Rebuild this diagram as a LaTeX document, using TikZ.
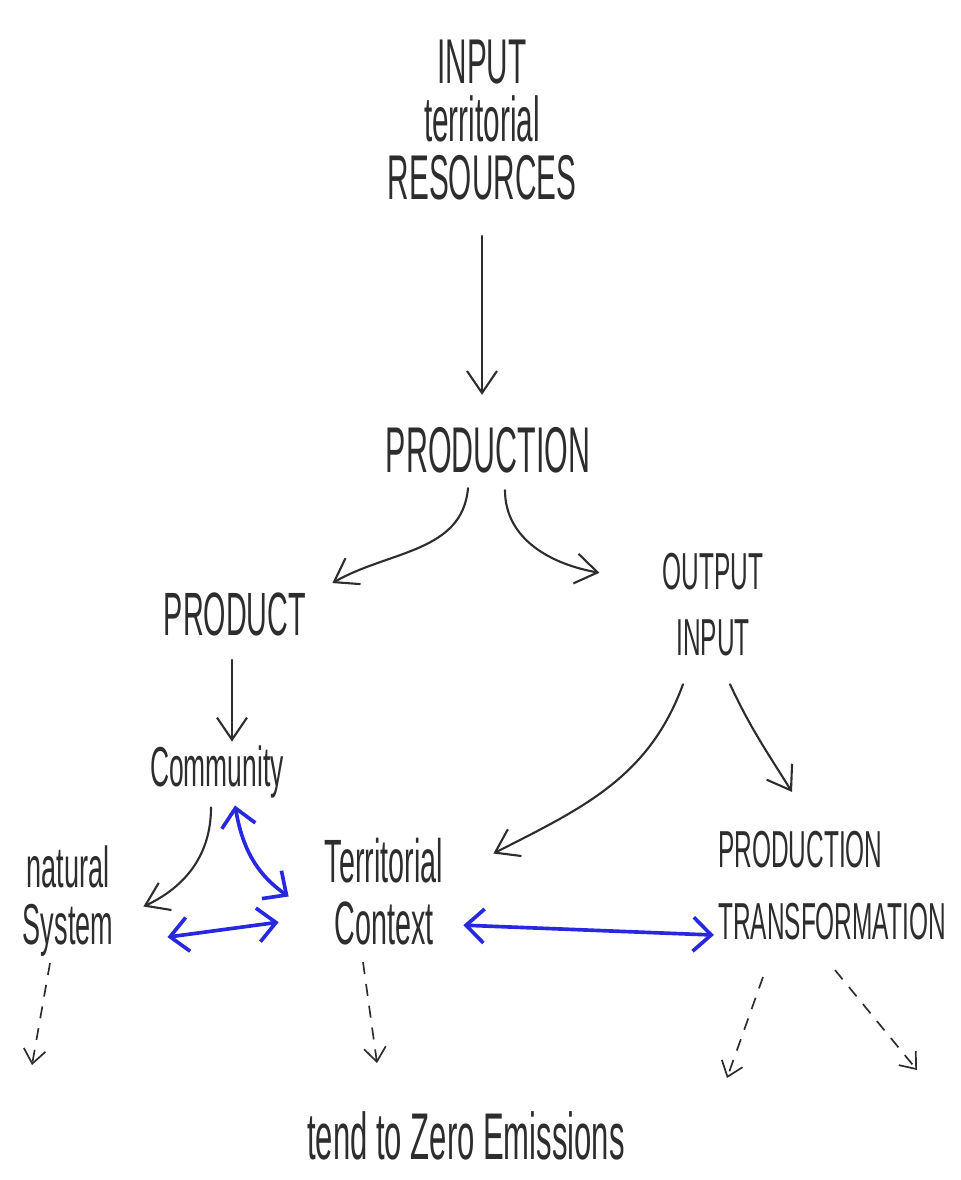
\documentclass[tikz,border=0pt]{standalone}
\usepackage{fontspec}
\newfontfamily\handfont[FakeStretch=0.47]{Liberation Sans}
\usetikzlibrary{arrows.meta, positioning}
\definecolor{inkblack}{RGB}{45,45,45}
\definecolor{inkblue}{RGB}{40,40,225}
\newcommand{\fsize}[2]{\fontsize{#1}{#2}\selectfont}
\tikzset{
    sketch/.style={inner sep=0pt, align=center, text=inkblack},
    flow/.style={-{Straight Barb[length=5.5mm,width=7.5mm]}, line width=1.5pt, draw=inkblack, line cap=round},
    link/.style={{Straight Barb[length=4.5mm,width=8.5mm]}-{Straight Barb[length=4.5mm,width=8.5mm]}, line width=2.6pt, draw=inkblue, line cap=round},
    fade/.style={-{Straight Barb[length=3.5mm,width=5.5mm]}, line width=1.2pt, draw=inkblack, dash pattern=on 3mm off 2.5mm},
}

\begin{document}
\begin{tikzpicture}[x=0.25mm, y=0.25mm]
    \useasboundingbox (0,0) rectangle (960,-1180);

    \node [sketch, font=\handfont\fsize{45}{41}] (res) at (482,-120) {INPUT\\territorial\\RESOURCES};
    \node [sketch, font=\handfont\fsize{46}{50}] (prodn) at (488,-450) {PRODUCTION};
    \node [sketch, font=\handfont\fsize{43.5}{48}] (product) at (235,-614) {PRODUCT};
    \node [sketch, font=\handfont\fsize{37}{47}] (outin) at (713,-604.5) {OUTPUT\\INPUT};
    \node [sketch, font=\handfont\fsize{40}{44}] (comm) at (217,-772) {Community};
    \node [sketch, font=\handfont\fsize{41}{40.5}] (natsys) at (68,-901.5) {natural\\System};
    \node [sketch, font=\handfont\fsize{43.5}{44}] (terr) at (384,-891.5) {Territorial\\Context};
    \node [sketch, align=left, font=\handfont\fsize{37}{51}] (prodtr) at (832,-885.5) {PRODUCTION\\TRANSFORMATION};
    \node [sketch, font=\handfont\fsize{47}{52}] (zero) at (466,-1136) {tend to Zero Emissions};

    % loose ends of the dashed arrows
    \coordinate (natend) at (32,-1065);
    \coordinate (terrend) at (377,-1063);
    \coordinate (trleft) at (727,-1078);
    \coordinate (trright) at (917,-1070);

    \draw [flow] ([shift={(0,-36)}]res.south) -- ([shift={(-6,32)}]prodn.north);
    \draw [flow] ([shift={(-20,-15)}]prodn.south) to[out=-95,in=30] ([shift={(26,9)}]product.north east);
    \draw [flow] ([shift={(17,-17)}]prodn.south) to[out=-90,in=170] ([shift={(-63,-20)}]outin.north west);
    \draw [flow] ([shift={(-3,-24)}]product.south) -- ([shift={(15,4)}]comm.north);
    \draw [flow] ([shift={(-30,-28)}]outin.south) to[out=-110,in=27] ([shift={(50,38)}]terr.east);
    \draw [flow] ([shift={(17,-28)}]outin.south) to[out=-65,in=122] ([shift={(-40,39)}]prodtr.north);
    \draw [flow] ([shift={(-6,-9)}]comm.south) to[out=-90,in=25] ([shift={(30,-5)}]natsys.east);

    \draw [link] ([shift={(18,-7)}]comm.south) to[out=-80,in=145] ([shift={(-36,-5)}]terr.west);
    \draw [link] ([shift={(54,20)}]natsys.south east) -- ([shift={(-46,23)}]terr.south west);
    \draw [link] ([shift={(20,20)}]terr.south east) -- ([shift={(-4,5)}]prodtr.south west);

    \draw [fade] ([shift={(-18,-6)}]natsys.south) -- (natend);
    \draw [fade] ([shift={(-21,-17)}]terr.south) -- (terrend);
    \draw [fade] ([shift={(-69,-37)}]prodtr.south) -- (trleft);
    \draw [fade] ([shift={(3,-30)}]prodtr.south) -- (trright);
\end{tikzpicture}
\end{document}
